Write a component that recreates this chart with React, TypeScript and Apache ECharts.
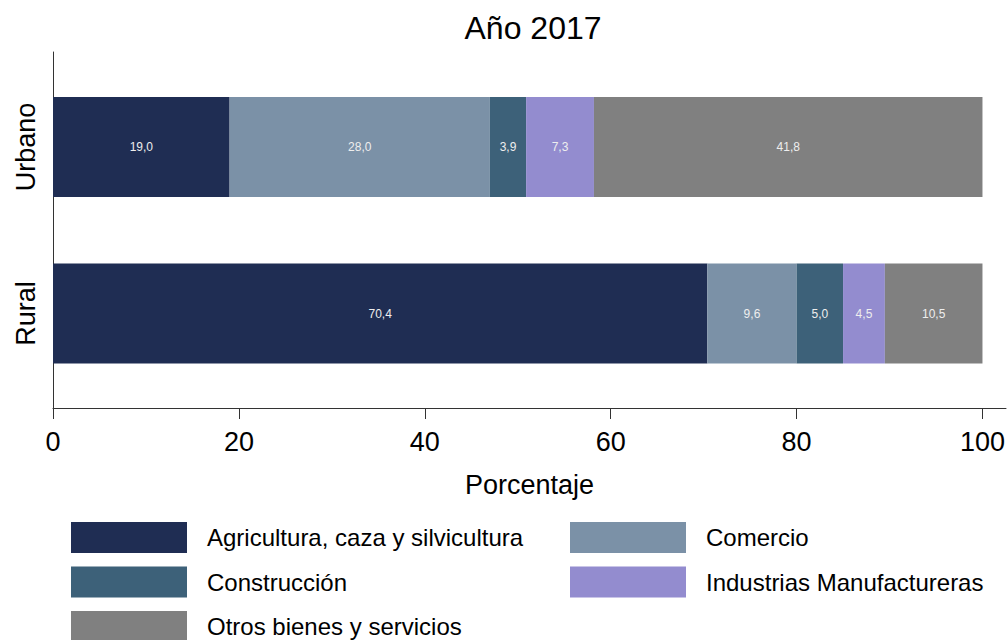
import React, { useEffect, useRef } from 'react';
import * as echarts from 'echarts';

const categories = ['Urbano', 'Rural'];
const seriesNames = [
  'Agricultura, caza y silvicultura',
  'Comercio',
  'Construcción',
  'Industrias Manufactureras',
  'Otros bienes y servicios',
];
const agricultura = [19.0, 70.4];
const comercio = [28.0, 9.6];
const construccion = [3.9, 5.0];
const industrias = [7.3, 4.5];
const otros = [41.8, 10.5];
const xMin = 0;
const xMax = 100;
const xInterval = 20;

const colors = ['#1f2d53', '#7b91a7', '#3d6179', '#938ccf', '#808080'];
const FONT = '"Liberation Sans", Arial, sans-serif';

// legend slot (column, row) for each series
const legendSlots = [
  [0, 0],
  [1, 0],
  [0, 1],
  [1, 1],
  [0, 2],
];

export default function App() {
  const ref = useRef<HTMLDivElement>(null);
  useEffect(() => {
    if (!ref.current) return;
    const chart = echarts.init(ref.current, undefined, { renderer: 'svg' });
    const values = [agricultura, comercio, construccion, industrias, otros];
    const series = values.map((v, i) => ({
      name: seriesNames[i],
      type: 'bar',
      stack: 'total',
      xAxisIndex: 1,
      yAxisIndex: 1,
      barWidth: 100,
      data: v,
      itemStyle: { color: colors[i] },
      label: {
        show: true,
        position: 'inside',
        color: '#eeeeee',
        fontSize: 12,
        fontFamily: FONT,
        formatter: (p: any) => Number(p.value).toFixed(1).replace('.', ','),
      },
    }));
    const legends = seriesNames.map((name, i) => ({
      orient: 'horizontal',
      left: legendSlots[i][0] === 0 ? 71 : 570,
      top: 522 + legendSlots[i][1] * 44.5,
      padding: 0,
      itemWidth: 116,
      itemHeight: 31,
      icon: 'rect',
      data: [name],
      textStyle: { fontSize: 24, color: '#000', fontFamily: FONT, padding: [3, 0, 0, 15] },
      selectedMode: false,
    }));
    chart.setOption({
      animation: false,
      backgroundColor: '#ffffff',
      textStyle: { fontFamily: FONT },
      title: {
        text: 'Año 2017',
        left: 528,
        top: 7,
        textAlign: 'center',
        textStyle: { fontSize: 32, fontWeight: 'normal', color: '#000', fontFamily: FONT },
      },
      legend: legends,
      grid: [
        { left: 53, top: 52, width: 953, height: 356 },
        { left: 53, top: 63.75, width: 930, height: 333 },
      ],
      xAxis: [
        {
          type: 'value',
          gridIndex: 0,
          min: 0,
          max: 102.5,
          axisLine: { show: true, lineStyle: { color: '#333', width: 1 } },
          axisTick: { show: false },
          axisLabel: { show: false },
          splitLine: { show: false },
          name: 'Porcentaje',
          nameLocation: 'middle',
          nameGap: 63,
          nameTextStyle: { fontSize: 27, color: '#000', fontFamily: FONT },
        },
        {
          type: 'value',
          gridIndex: 1,
          min: xMin,
          max: xMax,
          interval: xInterval,
          offset: 11.25,
          axisLine: { show: false },
          axisTick: { show: true, length: 11, lineStyle: { color: '#333', width: 1 } },
          axisLabel: { fontSize: 27, color: '#000', margin: 20, fontFamily: FONT },
          splitLine: { show: false },
        },
      ],
      yAxis: [
        {
          type: 'value',
          gridIndex: 0,
          axisLine: { show: true, lineStyle: { color: '#333', width: 1 } },
          axisTick: { show: false },
          axisLabel: { show: false },
          splitLine: { show: false },
        },
        {
          type: 'category',
          gridIndex: 1,
          data: categories,
          inverse: true,
          axisLine: { show: false },
          axisTick: { show: false },
          axisLabel: { rotate: 90, fontSize: 27, color: '#000', margin: 14, fontFamily: FONT },
        },
      ],
      series,
    });
    return () => chart.dispose();
  }, []);
  return (
    <div
      ref={ref}
      style={{ position: 'absolute', left: 0, top: 0, width: 1008, height: 640 }}
    />
  );
}
